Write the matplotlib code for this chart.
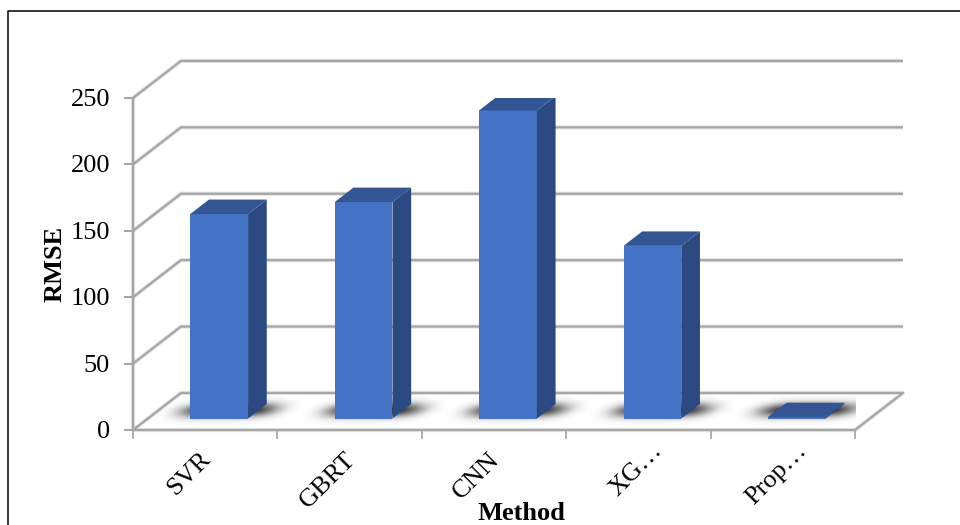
import numpy as np
import matplotlib
matplotlib.use('Agg')
import matplotlib.pyplot as plt
from matplotlib.lines import Line2D
from matplotlib.patches import Polygon

methods = ['SVR', 'GBRT', 'CNN', 'XG\u2026', 'Prop\u2026']
rmse = [154, 163, 232, 130, 1]
y_ticks = [0, 50, 100, 150, 200, 250]

GRID = '#a6a6a6'
FRONT = '#4472c4'
SIDE = '#2b4a82'
TOP = '#335593'

# oblique offset of the full floor depth, in data units
DEPTH_X = 0.332
DEPTH_Y = 27.9
BAR_W = 0.40
BAR_NEAR = 0.31
BAR_FAR = 0.70

plt.rcParams['font.family'] = ['Liberation Serif', 'DejaVu Serif']

fig = plt.figure(figsize=(9.6, 5.25), dpi=100)
ax = fig.add_axes([133 / 960, 1 - 430 / 525, 722 / 960, 332 / 525])
ax.set_xlim(0, len(methods))
ax.set_ylim(0, 250)
ax.axis('off')


def soft_line(xs, ys, zorder=1):
    ax.plot(xs, ys, color=GRID, lw=3.0, alpha=0.3, clip_on=False, zorder=zorder,
            solid_capstyle='butt')
    ax.plot(xs, ys, color=GRID, lw=1.6, clip_on=False, zorder=zorder,
            solid_capstyle='butt')


# gridlines running along the back wall, with the slanted side wall part
n = len(methods)
for t in y_ticks[1:]:
    soft_line([0, DEPTH_X, n + DEPTH_X], [t, t + DEPTH_Y, t + DEPTH_Y])

# floor outline
soft_line([0, DEPTH_X, n + DEPTH_X, n, 0],
          [0, DEPTH_Y, DEPTH_Y, 0, 0])

# value axis and tick marks
soft_line([0, 0], [0, 250], zorder=2)
for t in y_ticks:
    ax.plot([-0.055, 0], [t, t], color=GRID, lw=1.5, clip_on=False)
    ax.annotate(str(t), xy=(0, t), xytext=(-16.5, -1.5), textcoords='offset points',
                ha='right', va='center', fontsize=19, annotation_clip=False)
for i in range(n + 1):
    ax.plot([i, i], [0, -6], color=GRID, lw=1.3, clip_on=False)

# soft shadows on the floor around each bar foot
sx, sy = np.meshgrid(np.linspace(-1, 1, 160), np.linspace(-1, 1, 60))
sheared = sx - 0.22 * sy
falloff = np.exp(-(sheared ** 4) * 5.6 - (sy ** 2) * 4.5)
shadow = np.zeros(falloff.shape + (4,))
shadow[..., :3] = 0.15
shadow[..., 3] = falloff
for i in range(n):
    cx = i + 0.5 + (BAR_NEAR + BAR_FAR) / 2 * DEPTH_X
    cy = (BAR_NEAR + BAR_FAR) / 2 * DEPTH_Y + 0.5
    ax.imshow(shadow, extent=[cx - 0.50, cx + 0.50, cy - 11, cy + 11],
              origin='lower', aspect='auto', zorder=3, interpolation='bilinear')
ax.set_xlim(0, n)
ax.set_ylim(0, 250)

# bars: front face from the axes, side and top faces sheared back from it
base = BAR_NEAR * DEPTH_Y
shift_x = (BAR_FAR - BAR_NEAR) * DEPTH_X
shift_y = (BAR_FAR - BAR_NEAR) * DEPTH_Y
centers = np.arange(n) + 0.5 + BAR_NEAR * DEPTH_X - 0.006
ax.bar(centers, rmse, width=BAR_W, bottom=base, color=FRONT, zorder=5)
for c, v in zip(centers, rmse):
    left, right = c - BAR_W / 2, c + BAR_W / 2
    top = base + v
    ax.add_patch(Polygon([(right, base), (right + shift_x, base + shift_y),
                          (right + shift_x, top + shift_y), (right, top)],
                         closed=True, color=SIDE, lw=0, zorder=5))
    ax.add_patch(Polygon([(left, top), (left + shift_x, top + shift_y),
                          (right + shift_x, top + shift_y), (right, top)],
                         closed=True, color=TOP, lw=0, zorder=6))

# category labels, slanted; the truncated ones sit a little closer to the axis
for i, name in enumerate(methods):
    dx, dy = (9, -7) if name.endswith('\u2026') else (-4, -13)
    ax.annotate(name, xy=(i + 0.5, 0), xytext=(dx, dy), textcoords='offset points',
                rotation=45, rotation_mode='anchor', ha='right', va='top',
                fontsize=19, annotation_clip=False)

fig.text(521 / 960, 1 - 513 / 525, 'Method', ha='center', va='center',
         fontsize=19, fontweight='bold')
fig.text(55 / 960, 1 - 264 / 525, 'RMSE', ha='center', va='center', rotation=90,
         fontsize=19, fontweight='bold')

# frame of the chart area, only left and top fall inside the canvas
fig.add_artist(Line2D([7.5 / 960, 7.5 / 960, 1], [0, 1 - 10.5 / 525, 1 - 10.5 / 525],
                      color='black', lw=1.1, transform=fig.transFigure))

fig.savefig('out.png', dpi=100)
